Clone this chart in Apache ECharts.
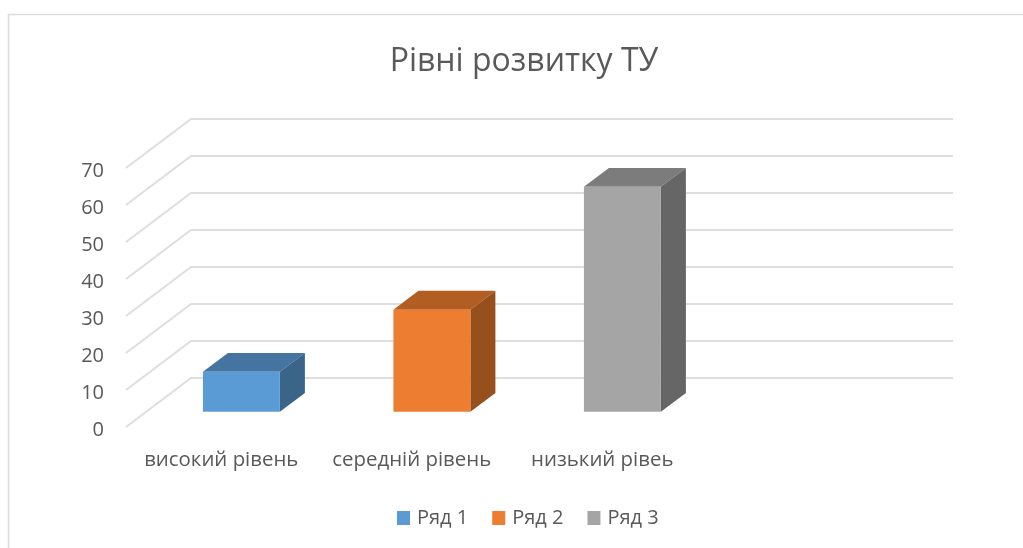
<!DOCTYPE html>
<html>
<head>
<meta charset="utf-8">
<title>Рівні розвитку ТУ</title>
<script src="https://cdn.jsdelivr.net/npm/echarts@6/dist/echarts.min.js"></script>
<style>
  html, body { margin: 0; padding: 0; background: #fff; }
  #chart { width: 1023px; height: 548px; }
</style>
</head>
<body>
<div id="chart"></div>
<script>
const categories = ['високий рівень', 'середній рівень', 'низький рівеь', ''];
const yTicks = [0, 10, 20, 30, 40, 50, 60, 70];
const ryad1 = [10.8, null, null, null];
const ryad2 = [null, 27.6, null, null];
const ryad3 = [null, null, 60.8, null];

const textColor = '#595959';
const lineColor = '#dedede';
const fontFamily = '"Open Sans", sans-serif';

// зсув задньої стінки відносно передньої грані
const WALL_DX = 65;
const WALL_DY = -49;

function toPoints(values) {
  return values
    .map(function (v, i) { return [i, v]; })
    .filter(function (p) { return p[1] !== null; });
}

/// сітка: передня точка -> задня стінка -> вправо
function renderWall(params, api) {
  const rect = params.coordSys;
  const y = api.coord([0, api.value(0)])[1];
  return {
    type: 'polyline',
    shape: {
      points: [
        [rect.x, y],
        [rect.x + WALL_DX, y + WALL_DY],
        [rect.x + rect.width + WALL_DX, y + WALL_DY]
      ]
    },
    style: { fill: 'none', stroke: lineColor, lineWidth: 2 }
  };
}

/// псевдо-3D стовпчик
function makeBar(top, side) {
  return function (params, api) {
    const c = api.coord([api.value(0), api.value(1)]);
    const base = api.coord([api.value(0), 0]);
    const w = api.size([1, 0])[0] * 0.404;
    const sx = WALL_DX * 0.31, sy = WALL_DY * 0.31;
    const dx = WALL_DX * 0.385, dy = WALL_DY * 0.385;
    const x0 = c[0] + sx - w / 2, x1 = x0 + w;
    const yTop = c[1] + sy, yBot = base[1] + sy;
    return {
      type: 'group',
      children: [{
        type: 'polygon',
        shape: { points: [[x0, yTop], [x1, yTop], [x1 + dx, yTop + dy], [x0 + dx, yTop + dy]] },
        style: { fill: top }
      }, {
        type: 'polygon',
        shape: { points: [[x1, yTop], [x1 + dx, yTop + dy], [x1 + dx, yBot + dy], [x1, yBot]] },
        style: { fill: side }
      }, {
        type: 'rect',
        shape: { x: x0, y: yTop, width: w, height: yBot - yTop },
        style: { fill: api.visual('color') }
      }]
    };
  };
}

function getOption() {
  return {
    backgroundColor: '#fff',
    animation: false,
    textStyle: { fontFamily: fontFamily },
    title: {
      text: 'Рівні розвитку ТУ',
      left: 519,
      top: 41,
      textAlign: 'center',
      textStyle: { fontFamily: fontFamily, fontWeight: 'normal', fontSize: 32, color: textColor }
    },
    legend: {
      data: ['Ряд 1', 'Ряд 2', 'Ряд 3'],
      left: 392,
      top: 503,
      icon: 'rect',
      itemWidth: 13,
      itemHeight: 14,
      itemGap: 24,
      textStyle: { fontFamily: fontFamily, fontSize: 20, color: textColor, padding: [0, 0, 0, 2] }
    },
    grid: { left: 126, top: 168, width: 762, height: 259 },
    xAxis: {
      type: 'category',
      data: categories,
      axisLine: { show: false },
      axisTick: { show: false },
      axisLabel: { interval: 0, margin: 23, fontSize: 20.4, color: textColor, fontFamily: fontFamily }
    },
    yAxis: {
      type: 'value',
      min: 0,
      max: 70,
      interval: 10,
      splitLine: { show: false },
      axisLine: { show: false },
      axisTick: { show: false },
      axisLabel: { margin: 22, fontSize: 20, color: textColor, fontFamily: fontFamily, verticalAlign: 'top', lineHeight: 6 }
    },
    series: [{
      name: 'стінка',
      type: 'custom',
      silent: true,
      z: 1,
      encode: { y: 0 },
      data: yTicks,
      renderItem: renderWall
    }, {
      name: 'Ряд 1',
      type: 'custom',
      z: 2,
      itemStyle: { color: '#5b9bd5' },
      encode: { x: 0, y: 1 },
      data: toPoints(ryad1),
      renderItem: makeBar('#44749f', '#3a6589')
    }, {
      name: 'Ряд 2',
      type: 'custom',
      z: 2,
      itemStyle: { color: '#ed7d31' },
      encode: { x: 0, y: 1 },
      data: toPoints(ryad2),
      renderItem: makeBar('#b25e22', '#96501c')
    }, {
      name: 'Ряд 3',
      type: 'custom',
      z: 2,
      itemStyle: { color: '#a5a5a5' },
      encode: { x: 0, y: 1 },
      data: toPoints(ryad3),
      renderItem: makeBar('#7c7c7c', '#666666')
    }],
    // рамка області діаграми
    graphic: [{
      type: 'polyline',
      shape: { points: [[8.5, 548], [8.5, 14.5], [1023, 14.5]] },
      style: { fill: 'none', stroke: '#dcdcdc', lineWidth: 1.5 }
    }]
  };
}

const chart = echarts.init(document.getElementById('chart'));
chart.setOption(getOption());
</script>
</body>
</html>
